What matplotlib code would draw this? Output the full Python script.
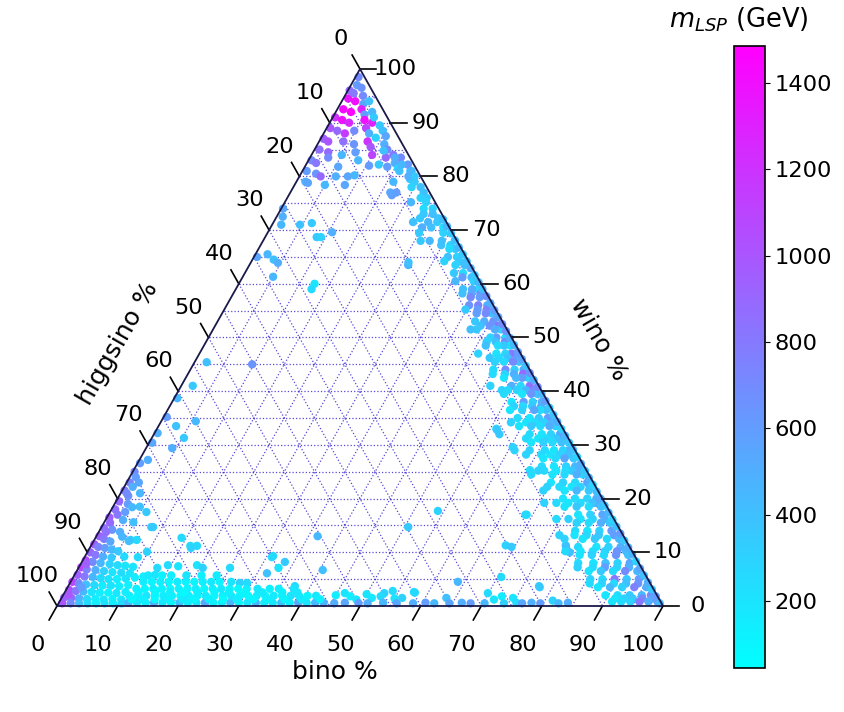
import numpy as np
import matplotlib.pyplot as plt

# neutralino composition: (bino %, wino %, m_LSP in GeV)
top_pts = [
    (0.5, 98.5, 700), (1.0, 97.0, 600), (0.3, 96.0, 900), (2.0, 96.5, 650),
    (0.8, 94.5, 1350), (2.2, 94.0, 1400), (3.0, 95.0, 700), (3.8, 93.5, 550),
    (1.0, 92.5, 1420), (2.5, 92.0, 1480), (4.0, 92.5, 1300), (5.0, 91.5, 600),
    (6.0, 92.0, 450), (0.4, 91.0, 1200), (1.8, 90.5, 1380), (3.2, 90.0, 1250),
    (5.5, 90.5, 1400), (7.0, 90.0, 1300), (8.5, 89.5, 350), (6.5, 89.0, 1100),
    (0.6, 89.0, 1000), (2.0, 88.5, 900), (3.5, 88.0, 1150), (4.8, 88.5, 700),
    (7.5, 88.0, 500), (9.5, 88.5, 400), (10.5, 87.5, 550), (0.5, 87.0, 950),
    (1.5, 86.5, 1000), (4.0, 86.5, 850), (6.0, 86.0, 650), (8.0, 86.5, 1200),
    (9.0, 85.5, 1000), (11.0, 86.0, 500), (12.0, 85.0, 700), (0.8, 85.0, 850),
    (2.5, 84.5, 900), (5.0, 84.0, 450), (7.0, 84.5, 600), (10.0, 84.0, 1100),
    (12.5, 83.5, 900), (13.5, 84.0, 800), (0.5, 83.0, 700), (1.5, 82.5, 800),
    (8.2, 83.0, 450), (13.6, 81.8, 600), (14.5, 82.5, 500), (5.5, 81.8, 550),
    (0.7, 81.0, 600), (2.5, 80.5, 650), (3.5, 80.0, 900), (6.0, 80.0, 500),
    (8.0, 80.0, 550), (9.0, 80.2, 450), (17.8, 81.0, 400), (18.5, 79.5, 350),
    (1.5, 79.0, 500), (5.0, 78.4, 450), (8.3, 78.4, 550), (17.0, 76.5, 600),
    (1.2, 95.5, 800), (4.5, 94.0, 400), (6.8, 91.0, 350), (9.0, 87.2, 300),
    (11.5, 84.8, 400), (3.0, 83.5, 700), (12.0, 82.2, 350), (15.5, 81.5, 300),
    (10.5, 82.0, 600), (2.0, 78.8, 550), (16.0, 79.0, 450),
]

mid_pts = [
    (0.3, 74.0, 550), (1.0, 72.5, 500), (1.5, 71.0, 450), (4.6, 71.0, 400),
    (6.4, 71.3, 350), (8.5, 68.7, 350), (9.2, 68.7, 300), (10.6, 69.6, 500),
    (0.5, 65.0, 550), (2.0, 65.5, 450), (3.5, 64.5, 400), (4.5, 63.9, 500),
    (5.0, 61.3, 450), (12.5, 60.0, 200), (12.5, 59.0, 250),
    (2.0, 45.4, 400), (9.7, 45.0, 650), (1.9, 41.0, 350), (0.5, 38.7, 450),
    (0.5, 35.2, 600), (2.9, 33.5, 400), (5.7, 34.4, 450), (0.5, 32.2, 500),
    (5.3, 31.3, 350), (4.3, 29.4, 500), (0.5, 30.4, 550), (1.4, 27.2, 500),
    (0.4, 26.6, 600),
]

corner_pts = [
    (0.3, 25.0, 700), (1.0, 24.0, 600), (0.5, 23.0, 750), (1.4, 22.2, 500),
    (3.2, 21.0, 450), (0.4, 21.5, 800), (1.5, 20.5, 650), (0.5, 19.5, 900),
    (2.2, 19.0, 600), (4.4, 18.5, 400), (3.2, 18.4, 450), (6.0, 17.5, 350),
    (0.6, 18.0, 850), (1.5, 17.0, 800), (0.4, 16.5, 950), (2.9, 16.0, 500),
    (4.8, 15.6, 400), (8.5, 14.7, 300), (1.0, 15.5, 900), (0.5, 14.5, 850),
    (2.0, 14.2, 650), (3.5, 13.8, 500), (4.3, 12.9, 450), (6.0, 12.3, 300),
    (7.0, 12.3, 250), (0.5, 13.0, 950), (1.5, 12.5, 800), (2.8, 12.0, 550),
    (0.4, 11.5, 1000), (1.3, 11.0, 750), (2.5, 10.8, 600), (3.8, 10.5, 450),
    (5.0, 10.2, 350), (9.8, 10.1, 300), (0.5, 10.0, 900), (1.6, 9.5, 800),
    (3.0, 9.2, 500), (4.5, 9.0, 350), (6.5, 9.2, 250), (8.8, 9.1, 250),
    (0.5, 8.5, 1050), (1.8, 8.2, 700), (3.2, 8.0, 450), (4.8, 7.8, 300),
    (6.2, 7.6, 250), (7.5, 7.5, 200), (8.9, 7.3, 200), (0.4, 7.2, 1100),
    (1.5, 6.8, 750), (3.0, 6.7, 500), (4.5, 6.5, 300), (6.0, 6.3, 200),
    (7.5, 6.2, 250), (9.0, 6.1, 200), (13.0, 7.1, 250), (13.3, 5.8, 200),
    (0.5, 5.8, 950), (1.8, 5.5, 800), (3.2, 5.4, 450), (4.6, 5.2, 250),
    (6.0, 5.0, 200), (7.4, 5.0, 150), (8.8, 5.1, 200), (10.2, 5.3, 150),
    (11.5, 5.5, 150), (0.3, 4.5, 1100), (1.5, 4.2, 700), (2.8, 4.0, 400),
    (4.2, 3.9, 250), (5.6, 3.8, 150), (7.0, 3.8, 200), (8.4, 3.7, 150),
    (9.8, 3.9, 120), (0.5, 3.0, 1050), (1.7, 2.8, 800), (3.0, 2.7, 450),
    (4.4, 2.6, 200), (5.8, 2.5, 150), (7.2, 2.5, 120), (8.6, 2.4, 180),
    (10.0, 2.6, 150), (0.4, 1.6, 950), (1.6, 1.5, 900), (2.9, 1.4, 500),
    (4.3, 1.3, 250), (5.7, 1.3, 150), (7.1, 1.2, 200), (8.5, 1.3, 120),
    (10.0, 1.2, 180), (0.6, 0.5, 1000), (2.0, 0.5, 700), (3.4, 0.5, 400),
    (4.8, 0.5, 250), (6.2, 0.5, 150), (7.6, 0.5, 200), (9.0, 0.5, 150),
    (10.4, 0.5, 250), (1.0, 21.0, 700), (2.0, 23.0, 550), (2.5, 17.5, 600),
    (1.2, 13.8, 850), (0.9, 7.8, 950), (0.8, 2.2, 1000), (2.3, 3.5, 600),
]

# low-wino strip along the bino axis: (wino %, bino values, masses)
strip_rows = [
    (0.6, [11.5, 12.9, 14.3, 15.7, 17.1, 18.5, 19.9, 21.3, 22.7, 24.1, 25.5, 26.9,
           28.3, 29.7, 31.1, 32.5, 33.9, 35.3, 36.7, 38.1, 39.5, 40.9, 42.3, 43.7],
          [450, 200, 150, 500, 180, 120, 400, 150, 200, 550, 130, 160,
           450, 120, 200, 500, 150, 180, 400, 150, 550, 200, 450, 500]),
    (1.9, [11.0, 12.4, 13.8, 15.2, 16.6, 18.0, 19.4, 20.8, 22.2, 23.6, 25.0, 26.4,
           27.8, 29.2, 30.6, 32.0, 33.4, 34.8, 36.2, 37.6, 39.0, 40.4, 41.8],
          [150, 120, 200, 100, 160, 130, 90, 150, 120, 180, 100, 140,
           200, 120, 90, 150, 110, 160, 130, 200, 150, 120, 170]),
    (3.2, [11.5, 12.9, 14.3, 15.7, 17.1, 18.5, 19.9, 21.3, 22.7, 24.1, 25.5, 26.9,
           28.3, 29.7, 31.5, 33.5, 35.0, 37.5],
          [130, 100, 160, 120, 90, 140, 110, 150, 100, 130, 170, 120,
           90, 150, 180, 120, 150, 200]),
    (4.5, [12.0, 13.4, 14.8, 16.2, 17.6, 19.0, 20.4, 21.8, 23.2, 24.6, 26.5],
          [150, 110, 130, 90, 160, 120, 100, 140, 180, 120, 200]),
    (5.7, [12.2, 14.5, 16.0, 18.5, 21.0, 23.5],
          [180, 120, 150, 200, 130, 160]),
    (1.25, [11.7, 13.6, 15.5, 17.8, 20.1, 22.0, 24.4, 26.8, 29.0, 31.8, 34.1, 36.9, 39.7, 42.8],
           [100, 140, 90, 120, 160, 100, 130, 90, 150, 110, 140, 120, 160, 130]),
    (2.55, [12.2, 14.9, 17.4, 19.6, 21.9, 24.7, 27.1, 29.8, 32.6, 35.9, 38.4],
           [120, 100, 150, 90, 130, 110, 140, 100, 160, 130, 180]),
]

bottom_pts = [
    (45.0, 2.0, 150), (46.3, 2.4, 200), (47.5, 1.8, 150), (50.0, 2.2, 200),
    (51.2, 1.5, 180), (54.0, 2.8, 250), (55.0, 1.4, 200),
    (45.5, 0.5, 500), (47.2, 0.6, 550), (48.8, 1.2, 200), (49.5, 0.5, 600),
    (51.0, 0.5, 500), (52.5, 1.8, 250), (53.5, 0.6, 450), (55.8, 0.5, 550),
    (56.2, 1.5, 300), (57.6, 2.6, 250), (58.5, 0.5, 500), (60.5, 0.6, 600),
    (62.0, 0.5, 450), (63.5, 1.5, 400), (64.5, 0.5, 550), (66.5, 0.6, 500),
    (68.0, 0.5, 600), (70.3, 0.5, 450), (71.5, 1.2, 200), (72.5, 1.8, 150),
    (73.5, 0.5, 300), (74.5, 1.5, 200), (75.5, 0.6, 250), (76.5, 0.5, 550),
    (78.0, 0.6, 500), (79.5, 0.5, 600), (81.3, 1.0, 300), (82.5, 0.5, 450),
    (84.0, 0.6, 500),
]

# band along the bino-wino edge: (wino %, higgsino values, masses)
edge_rows = [
    (83.5, [1.5, 2.5], [700, 500]),
    (82.2, [1.0, 2.0], [600, 450]),
    (81.0, [1.0, 3.0], [450, 400]),
    (80.0, [2.0, 1.0], [500, 350]),
    (79.0, [1.5], [350]),
    (78.0, [2.5, 1.0], [300, 400]),
    (77.0, [1.0, 5.5, 6.5], [400, 600, 550]),
    (76.0, [1.0, 2.0], [350, 300]),
    (75.2, [4.0, 1.5], [450, 300]),
    (74.0, [1.0, 2.5], [300, 250]),
    (73.0, [1.5, 3.0], [400, 350]),
    (72.2, [1.0, 4.0], [400, 350]),
    (71.5, [1.5, 3.0, 5.5], [350, 450, 400]),
    (70.5, [1.0, 3.0, 4.5], [250, 400, 500]),
    (69.5, [1.5, 5.5], [300, 350]),
    (68.0, [2.5, 4.5, 6.0], [400, 450, 350]),
    (67.2, [1.5, 3.0], [300, 400]),
    (66.5, [1.0, 2.0], [350, 250]),
    (65.0, [1.5, 3.0], [300, 400]),
    (64.2, [1.5, 4.0], [350, 300]),
    (64.0, [10.0], [400]),
    (63.5, [1.0, 2.5], [400, 300]),
    (62.0, [2.0, 3.5], [250, 350]),
    (61.2, [1.0, 2.5], [450, 600]),
    (60.5, [1.0, 4.0], [300, 450]),
    (59.0, [1.0, 2.0, 3.5], [250, 500, 400]),
    (58.2, [1.0, 2.5, 4.0], [700, 550, 400]),
    (57.5, [1.5, 3.0], [600, 700]),
    (56.0, [1.0, 2.5, 4.0], [500, 750, 650]),
    (55.2, [1.5, 3.0, 5.0], [750, 600, 350]),
    (54.5, [1.0, 2.0, 3.5], [400, 700, 600]),
    (53.0, [1.5, 3.0, 4.5], [650, 500, 350]),
    (52.2, [1.0, 2.5, 4.0], [800, 650, 400]),
    (51.5, [1.0, 2.0, 5.0, 6.0], [300, 500, 350, 400]),
    (50.0, [1.0, 2.5, 3.5], [250, 600, 300]),
    (49.2, [1.5, 3.0, 4.5], [700, 400, 300]),
    (48.5, [1.0, 2.0, 3.0, 5.0], [200, 350, 250, 400]),
    (47.0, [1.5, 2.5, 4.0, 7.0], [800, 300, 200, 300]),
    (46.2, [1.0, 2.5, 4.0, 5.5], [600, 400, 250, 350]),
    (45.5, [1.0, 2.0, 3.5, 5.0], [400, 700, 250, 300]),
    (44.0, [1.0, 2.5, 4.0, 6.0], [550, 300, 700, 250]),
    (43.2, [1.5, 3.0, 4.5, 6.5], [900, 500, 300, 250]),
    (42.5, [1.0, 2.0, 3.0, 5.0], [300, 600, 450, 200]),
    (41.0, [1.5, 3.0, 4.5, 8.0], [850, 250, 500, 300]),
    (40.2, [1.0, 2.5, 4.0, 5.5], [650, 450, 300, 250]),
    (39.5, [1.0, 2.0, 3.5, 6.5], [350, 650, 200, 250]),
    (38.0, [1.0, 2.5, 4.0, 6.0], [500, 300, 600, 200]),
    (37.2, [1.5, 3.0, 4.5, 6.0], [500, 350, 250, 300]),
    (36.5, [1.0, 2.0, 3.0, 5.0, 7.0], [400, 250, 550, 300, 200]),
    (35.0, [1.5, 3.0, 4.5, 6.5], [600, 350, 200, 250]),
    (34.2, [1.0, 2.5, 4.0, 5.5, 8.0], [450, 300, 250, 200, 300]),
    (33.5, [1.0, 2.0, 3.5, 5.0, 7.0], [300, 500, 250, 350, 200]),
    (32.0, [1.0, 2.5, 4.0, 6.0, 11.0], [550, 300, 200, 250, 350]),
    (31.2, [1.0, 2.0, 3.5, 5.0, 7.0], [600, 350, 250, 200, 250]),
    (30.5, [1.5, 3.0, 4.5, 6.5], [400, 250, 300, 200]),
    (29.0, [1.0, 2.0, 3.5, 5.0, 7.5, 10.0], [500, 300, 200, 250, 300, 300]),
    (28.2, [1.5, 3.0, 4.5, 6.0, 8.5], [400, 300, 200, 250, 300]),
    (27.5, [1.0, 2.5, 4.0, 6.0], [350, 550, 250, 200]),
    (26.0, [1.5, 3.0, 5.0, 7.0], [450, 300, 200, 250]),
    (25.2, [1.0, 2.5, 3.5, 5.0, 7.0, 8.0], [500, 350, 250, 200, 250, 300]),
    (24.5, [1.0, 2.0, 4.0, 6.0, 9.5], [300, 500, 250, 200, 250]),
    (23.0, [1.0, 3.0, 5.0, 7.0], [550, 250, 300, 200]),
    (22.2, [1.0, 2.5, 4.0, 6.0, 8.0], [450, 300, 200, 250, 300]),
    (21.5, [1.5, 3.5, 5.5, 9.0], [350, 450, 200, 300]),
    (20.0, [1.0, 2.5, 4.5, 6.5], [500, 300, 250, 200]),
    (19.2, [1.5, 2.0, 4.0, 6.0, 8.0, 10.0], [550, 400, 250, 200, 250, 300]),
    (18.5, [1.0, 3.0, 5.0, 7.0], [400, 250, 350, 200]),
    (17.0, [1.5, 3.5, 5.5, 14.0], [550, 300, 200, 250]),
    (16.2, [1.5, 3.5, 5.5, 7.5, 9.5], [500, 300, 200, 300, 250]),
    (15.5, [1.0, 2.5, 4.5, 6.5], [350, 500, 250, 300]),
    (14.0, [1.5, 3.5, 5.5, 7.5], [600, 300, 200, 250]),
    (13.2, [1.5, 4.0, 6.0, 8.0, 10.5], [600, 350, 250, 200, 300]),
    (12.5, [1.0, 3.0, 5.0, 7.0, 10.0], [450, 250, 350, 200, 300]),
    (11.0, [1.5, 3.5, 5.5, 8.5, 10.5, 19.5], [500, 300, 200, 250, 400, 350]),
    (10.2, [1.0, 2.5, 4.5, 6.5, 8.5, 11.0], [450, 650, 300, 250, 200, 250]),
    (9.5, [1.0, 3.0, 5.0, 7.0, 9.0], [400, 650, 250, 300, 200]),
    (8.0, [1.5, 3.5, 5.5, 7.5, 10.0], [550, 300, 400, 200, 250]),
    (7.2, [2.0, 4.0, 6.0, 8.0, 10.5], [500, 300, 600, 250, 300]),
    (6.5, [1.0, 3.0, 5.0, 7.0, 9.0], [450, 700, 250, 350, 200]),
    (5.0, [1.5, 3.5, 5.5, 7.5, 9.5], [600, 350, 800, 250, 300]),
    (4.2, [2.0, 4.0, 6.0, 8.0, 10.0], [650, 400, 250, 300, 250]),
    (3.5, [1.0, 3.0, 5.0, 7.0, 9.0, 18.6], [500, 750, 300, 450, 200, 350]),
    (2.0, [1.0, 2.5, 4.5, 6.5, 8.5], [700, 450, 350, 250, 200]),
    (1.4, [1.0, 2.7, 4.3, 5.7, 7.2], [550, 700, 350, 300, 200]),
    (0.8, [0.5, 2.0, 3.5, 5.0, 6.5, 8.0], [600, 500, 800, 300, 250, 200]),
]

# points sitting right on the bino-wino edge (higgsino ~ 0.3 %)
rim_wino = [0.5, 1.8, 3.1, 4.4, 5.7, 7.0, 8.3, 9.6, 10.9, 12.2, 13.5, 14.8,
            16.1, 17.4, 18.7, 20.0, 21.3, 22.6, 23.9, 25.2, 26.5, 27.8, 29.1,
            30.4, 31.7, 33.0, 34.3, 35.6, 36.9, 38.2, 39.5, 40.8, 42.1, 43.4,
            44.7, 46.0, 47.3, 48.6, 49.9, 51.2, 52.5, 53.8, 55.1, 56.4, 57.7,
            59.0, 60.3, 61.6, 62.9, 64.2, 65.5, 66.8, 68.1, 69.4, 70.7, 72.0]
rim_mass = [450, 600, 350, 500, 400, 550, 300, 450, 500, 350, 600, 400,
            300, 450, 350, 500, 400, 300, 450, 350, 500, 300, 400,
            350, 450, 300, 500, 400, 350, 600, 450, 700, 500, 650,
            400, 550, 600, 450, 500, 650, 700, 550, 600, 500, 650,
            400, 450, 350, 500, 400, 350, 450, 400, 350, 450, 400]

inner_pts = [
    (54.0, 17.7, 300), (50.6, 14.7, 350), (68.8, 17.0, 300), (68.4, 11.3, 300),
    (70.6, 5.4, 250), (63.9, 4.5, 450), (52.8, 2.4, 300), (69.9, 2.4, 250),
    (78.3, 11.3, 350), (77.7, 3.7, 350), (79.6, 10.0, 400), (14.2, 12.7, 250),
    (16.4, 11.2, 250), (17.5, 11.2, 250), (14.5, 7.6, 250), (16.3, 7.4, 200),
    (19.3, 7.6, 200), (20.5, 7.1, 300), (25.0, 7.1, 250), (28.0, 4.3, 300),
    (31.6, 6.1, 400), (31.0, 9.3, 250), (33.5, 8.2, 350), (36.5, 13.0, 450),
    (40.5, 6.7, 400), (8.2, 14.7, 350), (5.8, 12.1, 400), (16.7, 10.8, 300),
    (30.9, 9.1, 250), (33.0, 7.1, 200), (37.4, 3.7, 250), (29.2, 4.3, 250),
    (56.0, 33.0, 250), (60.4, 29.6, 300), (65.4, 25.3, 250), (26.2, 63.5, 450),
    (53.3, 40.2, 300), (56.2, 32.8, 350), (57.8, 2.5, 250),
]

cbar_ticks = [200, 400, 600, 800, 1000, 1200, 1400]
m_min, m_max = 45, 1486
ticks = list(range(0, 101, 10))

H = np.sqrt(3) / 2


def project(b, w):
    b = np.asarray(b, float)
    w = np.asarray(w, float)
    return b + w / 2, w * H


bino, wino, mass = [], [], []
for pts in (corner_pts, top_pts, mid_pts, inner_pts, bottom_pts):
    for b, w, m in pts:
        bino.append(b); wino.append(w); mass.append(m)
for w, bs, ms in strip_rows:
    for b, m in zip(bs, ms):
        bino.append(b); wino.append(w); mass.append(m)
for w, hs, ms in edge_rows:
    for h, m in zip(hs, ms):
        bino.append(100 - w - h); wino.append(w); mass.append(m)
for w, m in zip(rim_wino, rim_mass):
    bino.append(100 - w - 0.3); wino.append(w); mass.append(m)

fig = plt.figure(figsize=(8.45, 7.12), dpi=100)
ax = fig.add_axes([0, 0, 1, 1])
ax.set_xlim(-9.406, 130.03)
ax.set_ylim(-17.095, 97.73)
ax.axis('off')

# dotted grid every 5 %
for v in range(5, 100, 5):
    lines = [((0, v), (100 - v, v)),        # constant wino
             ((v, 0), (v, 100 - v)),        # constant bino
             ((0, 100 - v), (100 - v, 0))]  # constant higgsino
    for p, q in lines:
        x, y = project([p[0], q[0]], [p[1], q[1]])
        ax.plot(x, y, color='#3a2ad0', ls=':', lw=0.9, alpha=0.85, zorder=1)

x, y = project(bino, wino)
sc = ax.scatter(x, y, c=mass, cmap='cool', vmin=m_min, vmax=m_max,
                s=36, linewidths=0, zorder=2)

bx, by = project([0, 100, 0, 0], [0, 0, 100, 0])
ax.plot(bx, by, color='#1a1a4a', lw=1.3, zorder=3)

fs = 16.2
for t in ticks:
    # bino axis (bottom)
    x0, y0 = project(t, 0)
    ax.plot([x0, x0 - 1.3], [y0, y0 - 2.25], color='k', lw=1.2)
    ax.text(x0 - 3.2, y0 - 6.3, str(t), ha='center', va='center', fontsize=fs)
    # wino axis (right)
    x0, y0 = project(100 - t, t)
    ax.plot([x0, x0 + 2.7], [y0, y0], color='k', lw=1.2)
    ax.text(x0 + 5.8, y0, str(t), ha='center', va='center', fontsize=fs)
    # higgsino axis (left)
    x0, y0 = project(0, 100 - t)
    ax.plot([x0, x0 - 1.3], [y0, y0 + 2.25], color='k', lw=1.2)
    ax.text(x0 - 3.25, y0 + 4.8, str(t), ha='center', va='center', fontsize=fs)

fl = 18
ax.text(45.9, -10.65, 'bino %', ha='center', va='center', fontsize=fl)
ax.text(10.1, 42.4, 'higgsino %', ha='center', va='center', fontsize=fl, rotation=60)
ax.text(89.3, 42.9, 'wino %', ha='center', va='center', fontsize=fl, rotation=-60)

cax = fig.add_axes([734 / 845, 44 / 712, 31 / 845, 622 / 712])
cb = fig.colorbar(sc, cax=cax, ticks=cbar_ticks)
cb.ax.tick_params(labelsize=fs)
cb.outline.set_linewidth(1.2)
fig.text(739 / 845, 1 - 20 / 712, '$m_{LSP}$ (GeV)', ha='center', va='center', fontsize=18.5)

fig.savefig('out.png', dpi=100)
